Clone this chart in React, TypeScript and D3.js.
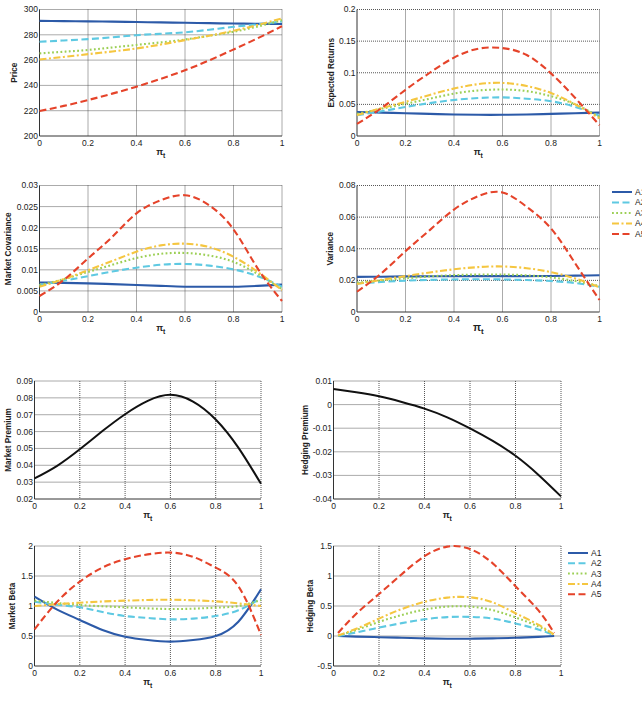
import React, { useEffect, useRef } from 'react';
import * as d3 from 'd3';

// state grid used by most panels
const piGrid = [0, 0.1, 0.2, 0.3, 0.4, 0.5, 0.6, 0.7, 0.8, 0.9, 1];
// hedging beta is only computed on the interior
const piGridInner = [0.02, 0.1, 0.2, 0.3, 0.4, 0.5, 0.6, 0.7, 0.8, 0.9, 0.97];

const assetNames = ['A1', 'A2', 'A3', 'A4', 'A5'];

const priceA1 = [291, 290.8, 290.6, 290.4, 290.1, 289.8, 289.5, 289.2, 288.9, 288.7, 288.5];
const priceA2 = [274.5, 275.5, 276.6, 278, 279.7, 280.8, 282, 284, 286.3, 288.3, 290.5];
const priceA3 = [265.3, 266.6, 268, 270, 272, 274, 276.3, 279.2, 282.4, 286.6, 291.6];
const priceA4 = [260.5, 262.5, 264.7, 266.8, 269.2, 272.3, 275.8, 279.3, 283.2, 287.8, 293];
const priceA5 = [219.7, 223.8, 228.4, 233.5, 239, 245.2, 252, 259.8, 268.4, 277.3, 286.8];

const retA1 = [0.038, 0.037, 0.036, 0.035, 0.034, 0.0335, 0.0335, 0.034, 0.035, 0.036, 0.037];
const retA2 = [0.033, 0.039, 0.046, 0.052, 0.057, 0.06, 0.061, 0.059, 0.055, 0.046, 0.032];
const retA3 = [0.035, 0.043, 0.051, 0.059, 0.067, 0.072, 0.0735, 0.071, 0.063, 0.05, 0.03];
const retA4 = [0.033, 0.044, 0.054, 0.065, 0.075, 0.082, 0.084, 0.079, 0.068, 0.05, 0.028];
const retA5 = [0.019, 0.044, 0.073, 0.1, 0.124, 0.138, 0.139, 0.128, 0.099, 0.06, 0.017];

const covA1 = [0.007, 0.0069, 0.0068, 0.0066, 0.0064, 0.0062, 0.006, 0.006, 0.006, 0.0062, 0.0065];
const covA2 = [0.0064, 0.0074, 0.0085, 0.0096, 0.0105, 0.0112, 0.0114, 0.011, 0.0101, 0.0085, 0.006];
const covA3 = [0.0064, 0.0078, 0.0095, 0.0112, 0.0128, 0.0138, 0.014, 0.0134, 0.0119, 0.009, 0.0054];
const covA4 = [0.006, 0.0078, 0.0099, 0.0121, 0.0143, 0.0158, 0.0162, 0.0154, 0.0131, 0.0095, 0.0052];
const covA5 = [0.0038, 0.0076, 0.0127, 0.0178, 0.0234, 0.0265, 0.0277, 0.0253, 0.0196, 0.0103, 0.0026];

const varA1 = [0.0222, 0.0223, 0.0225, 0.0226, 0.0227, 0.0227, 0.0227, 0.0227, 0.0228, 0.023, 0.0232];
const varA2 = [0.0181, 0.019, 0.0198, 0.0203, 0.0206, 0.0207, 0.0206, 0.0202, 0.0196, 0.0183, 0.016];
const varA3 = [0.0185, 0.02, 0.0213, 0.0225, 0.0233, 0.0237, 0.0237, 0.0232, 0.0219, 0.0196, 0.0164];
const varA4 = [0.0177, 0.0203, 0.0227, 0.025, 0.027, 0.0284, 0.0288, 0.0277, 0.0252, 0.0212, 0.0156];
const varA5 = [0.0128, 0.0244, 0.0385, 0.0518, 0.0648, 0.0733, 0.0756, 0.0665, 0.0528, 0.0307, 0.0076];

const marketPremium = [0.0322, 0.0397, 0.0495, 0.0603, 0.0703, 0.0782, 0.0818, 0.0778, 0.0672, 0.0505, 0.029];
const hedgingPremium = [0.0066, 0.0052, 0.0035, 0.0011, -0.0017, -0.0054, -0.0101, -0.0154, -0.0217, -0.0297, -0.0389];

const mbetaA1 = [1.156, 0.94, 0.767, 0.6, 0.489, 0.433, 0.406, 0.433, 0.5, 0.739, 1.278];
const mbetaA2 = [1.072, 1.02, 0.978, 0.9, 0.833, 0.8, 0.778, 0.79, 0.833, 0.93, 1.128];
const mbetaA3 = [1.089, 1.05, 1.017, 0.995, 0.978, 0.96, 0.95, 0.955, 0.972, 1.0, 1.1];
const mbetaA4 = [1.0, 1.03, 1.055, 1.075, 1.089, 1.1, 1.105, 1.095, 1.078, 1.044, 1.0];
const mbetaA5 = [0.611, 1.07, 1.406, 1.64, 1.78, 1.86, 1.89, 1.82, 1.64, 1.33, 0.517];

const hbetaA1 = [0, -0.01, -0.02, -0.03, -0.04, -0.045, -0.045, -0.04, -0.03, -0.015, 0];
const hbetaA2 = [0, 0.06, 0.14, 0.215, 0.278, 0.315, 0.318, 0.29, 0.21, 0.11, 0.01];
const hbetaA3 = [0.01, 0.1, 0.235, 0.35, 0.44, 0.49, 0.49, 0.43, 0.31, 0.16, 0.02];
const hbetaA4 = [0.01, 0.12, 0.29, 0.45, 0.57, 0.64, 0.645, 0.56, 0.38, 0.19, 0.02];
const hbetaA5 = [0.05, 0.37, 0.7, 1.03, 1.33, 1.49, 1.45, 1.21, 0.83, 0.43, 0.05];

const xTicks = [0, 0.2, 0.4, 0.6, 0.8, 1];

const seriesStyle = [
  { color: '#2c5aa8', dash: null },
  { color: '#5ec9e2', dash: '7,3.5' },
  { color: '#9ccf55', dash: '1.8,2.4' },
  { color: '#f5c640', dash: '7,2.5,2,2.5' },
  { color: '#e5432a', dash: '7,3.5' },
];

interface Panel {
  box: [number, number, number, number]; // left, top, right, bottom
  yDomain: [number, number];
  yTicks: number[];
  yLabel: string;
  yLabelX: number;
  xs: number[];
  series: number[][];
  black?: boolean;
  xLabelFont?: number;
  legend?: { x: number; y: number; step: number };
}

const panels: Panel[] = [
  { box: [39.5, 9.5, 282, 136], yDomain: [200, 300], yTicks: [200, 220, 240, 260, 280, 300],
    yLabel: 'Price', yLabelX: 17, xs: piGrid, series: [priceA1, priceA2, priceA3, priceA4, priceA5] },
  { box: [357, 9.5, 599.5, 136], yDomain: [0, 0.2], yTicks: [0, 0.05, 0.1, 0.15, 0.2],
    yLabel: 'Expected Returns', yLabelX: 334, xs: piGrid, series: [retA1, retA2, retA3, retA4, retA5] },
  { box: [39.5, 185.5, 282, 312], yDomain: [0, 0.03], yTicks: [0, 0.005, 0.01, 0.015, 0.02, 0.025, 0.03],
    yLabel: 'Market Covariance', yLabelX: 11, xs: piGrid, series: [covA1, covA2, covA3, covA4, covA5] },
  { box: [357, 185.5, 599.5, 312], yDomain: [0, 0.08], yTicks: [0, 0.02, 0.04, 0.06, 0.08],
    yLabel: 'Variance', yLabelX: 333, xs: piGrid, series: [varA1, varA2, varA3, varA4, varA5],
    xLabelFont: 10.5, legend: { x: 612, y: 192, step: 10.5 } },
  { box: [34.5, 381, 261, 499], yDomain: [0.02, 0.09], yTicks: [0.02, 0.03, 0.04, 0.05, 0.06, 0.07, 0.08, 0.09],
    yLabel: 'Market Premium', yLabelX: 11, xs: piGrid, series: [marketPremium], black: true },
  { box: [333.5, 381, 561, 499], yDomain: [-0.04, 0.01], yTicks: [-0.04, -0.03, -0.02, -0.01, 0, 0.01],
    yLabel: 'Hedging Premium', yLabelX: 308, xs: piGrid, series: [hedgingPremium], black: true },
  { box: [34.5, 546, 261, 666], yDomain: [0, 2], yTicks: [0, 0.5, 1, 1.5, 2],
    yLabel: 'Market Beta', yLabelX: 15, xs: piGrid, series: [mbetaA1, mbetaA2, mbetaA3, mbetaA4, mbetaA5] },
  { box: [333.5, 546, 561, 666], yDomain: [-0.5, 1.5], yTicks: [-0.5, 0, 0.5, 1, 1.5],
    yLabel: 'Hedging Beta', yLabelX: 313, xs: piGridInner, series: [hbetaA1, hbetaA2, hbetaA3, hbetaA4, hbetaA5],
    legend: { x: 568, y: 553, step: 10.3 } },
];

const fmt = (v: number) => String(+v.toFixed(4));
const FONT = '"Liberation Sans", Arial, Helvetica, sans-serif';

const App: React.FC = () => {
  const ref = useRef<SVGSVGElement>(null);

  useEffect(() => {
    if (!ref.current) return;
    const svg = d3.select(ref.current);
    svg.selectAll('*').remove();

    panels.forEach(p => {
      const [l, t, r, b] = p.box;
      const x = d3.scaleLinear().domain([0, 1]).range([l, r]);
      const y = d3.scaleLinear().domain(p.yDomain).range([b, t]);
      const g = svg.append('g');

      // dotted grid (including top / right edges)
      g.selectAll('line.gx').data(xTicks.filter(v => v > 0)).enter().append('line')
        .attr('x1', d => x(d)).attr('x2', d => x(d)).attr('y1', t).attr('y2', b)
        .attr('stroke', '#444').attr('stroke-width', 0.9).attr('stroke-dasharray', '1,1');
      g.selectAll('line.gy').data(p.yTicks.filter(v => v > p.yDomain[0])).enter().append('line')
        .attr('y1', d => y(d)).attr('y2', d => y(d)).attr('x1', l).attr('x2', r)
        .attr('stroke', '#444').attr('stroke-width', 0.9).attr('stroke-dasharray', '1,1');

      // solid left/bottom axes
      g.append('path').attr('d', `M${l},${t}V${b}H${r}`)
        .attr('fill', 'none').attr('stroke', '#333').attr('stroke-width', 1);

      g.selectAll('text.xt').data(xTicks).enter().append('text')
        .attr('x', d => x(d)).attr('y', b + 9.5)
        .attr('text-anchor', 'middle').attr('font-size', 8.5).attr('fill', '#222')
        .attr('font-family', FONT).text(d => fmt(d));
      g.selectAll('text.yt').data(p.yTicks).enter().append('text')
        .attr('x', l - 1.5).attr('y', d => y(d)).attr('dy', '0.35em')
        .attr('text-anchor', 'end').attr('font-size', 8.5).attr('fill', '#222')
        .attr('font-family', FONT).text(d => fmt(d));

      g.append('text')
        .attr('transform', `translate(${p.yLabelX},${(t + b) / 2}) rotate(-90)`)
        .attr('text-anchor', 'middle').attr('font-size', 8.2).attr('font-weight', 'bold')
        .attr('fill', '#222').attr('font-family', FONT).text(p.yLabel);

      const fs = p.xLabelFont ?? 9;
      const xl = g.append('text')
        .attr('x', (l + r) / 2).attr('y', b + 19)
        .attr('text-anchor', 'middle').attr('font-size', fs).attr('font-weight', 'bold')
        .attr('fill', '#222').attr('font-family', FONT);
      xl.append('tspan').text('π');
      xl.append('tspan').attr('font-size', fs * 0.75).attr('dy', fs * 0.3).text('t');

      const line = d3.line<number>()
        .x((_, i) => x(p.xs[i]))
        .y(d => y(d))
        .curve(d3.curveNatural);

      p.series.forEach((s, i) => {
        const st = p.black ? { color: '#111', dash: null } : seriesStyle[i];
        g.append('path').datum(s).attr('d', line)
          .attr('fill', 'none').attr('stroke', st.color).attr('stroke-width', p.black ? 2 : 2.1)
          .attr('stroke-dasharray', st.dash);
      });

      if (p.legend) {
        const lg = p.legend;
        assetNames.forEach((name, i) => {
          const st = seriesStyle[i];
          const yy = lg.y + i * lg.step;
          g.append('line').attr('x1', lg.x).attr('x2', lg.x + 20).attr('y1', yy).attr('y2', yy)
            .attr('stroke', st.color).attr('stroke-width', 2).attr('stroke-dasharray', st.dash);
          g.append('text').attr('x', lg.x + 23).attr('y', yy).attr('dy', '0.35em')
            .attr('font-size', 8.5).attr('fill', '#222').attr('font-family', FONT).text(name);
        });
      }
    });
  }, []);

  return (
    <svg ref={ref} width={642} height={705}
      style={{ position: 'absolute', left: 0, top: 0, background: '#fff' }} />
  );
};

export default App;
